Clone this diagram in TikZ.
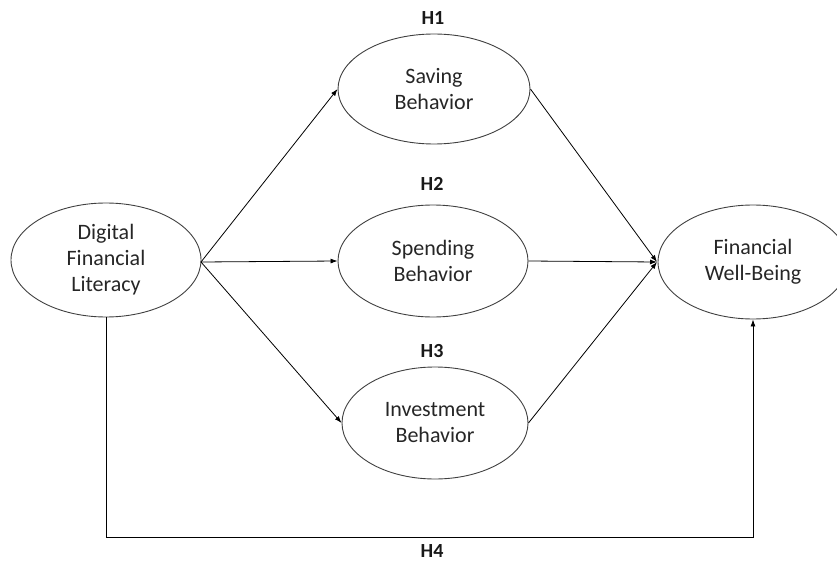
\documentclass[tikz,border=0pt]{standalone}
\usepackage{fontspec}
\setmainfont{Carlito}
\usetikzlibrary{shapes.geometric,arrows.meta}
\begin{document}
\begin{tikzpicture}[x=1pt,y=-1pt,
  var/.style={ellipse,draw=black!75,line width=0.9pt,inner sep=0pt,align=center,
    font=\fontsize{22}{26}\selectfont,text=black!85},
  hyp/.style={font=\fontsize{20}{22}\selectfont\bfseries,text=black!90},
  path/.style={draw=black,line width=0.8pt,-{Latex[length=7pt,width=5pt]}}]
\useasboundingbox (0,0) rectangle (837,564);
\node[var,minimum width=190pt,minimum height=114pt] (dfl) at (106,260) {Digital\\Financial\\Literacy};
\node[var,minimum width=192pt,minimum height=110pt] (sav) at (434,89) {Saving\\Behavior};
\node[var,minimum width=190pt,minimum height=112pt] (spe) at (433,261) {Spending\\Behavior};
\node[var,minimum width=186pt,minimum height=112pt] (inv) at (435,423) {Investment\\Behavior};
\node[var,minimum width=190pt,minimum height=114pt] (fwb) at (753,262) {Financial\\Well-Being};
\node[hyp] (h1) at (433,18) {H1};
\node[hyp] (h2) at (432,184) {H2};
\node[hyp] (h3) at (432,351) {H3};
\node[hyp] (h4) at (432,551) {H4};
\coordinate (src) at (201,262);
\coordinate (sink) at (657,262);
\coordinate (corner) at (106,537);
\draw[path] (src) -- (sav.west);
\draw[path] (src) -- (spe.west);
\draw[path] (src) -- (inv.west);
\draw[path] (sav.east) -- (sink);
\draw[path] (spe.east) -- (sink);
\draw[path] (inv.east) -- (sink);
\draw[path] (dfl.south) -- (corner) -| (fwb.south);
\end{tikzpicture}
\end{document}
